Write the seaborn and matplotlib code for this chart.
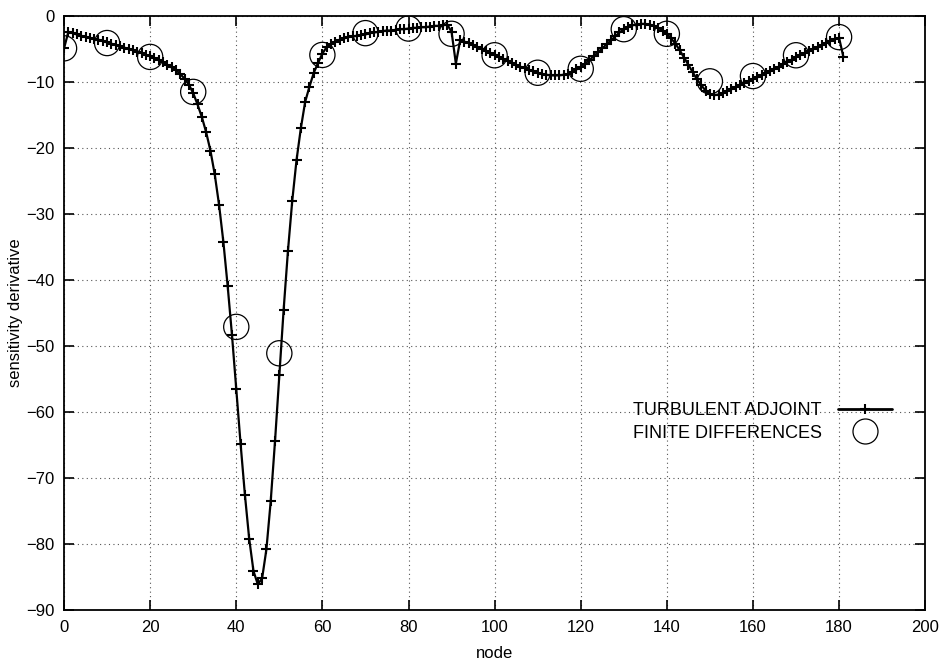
import numpy as np
import pandas as pd
import seaborn as sns
import matplotlib
matplotlib.use("Agg")
import matplotlib.pyplot as plt
from matplotlib.lines import Line2D

# ---- data ----
adjoint_nodes = list(range(0, 182))
adjoint_values = [
    -4.9, -2.4, -2.6, -2.8, -3.0, -3.2, -3.3, -3.5, -3.6, -3.8,
    -4.0, -4.2, -4.4, -4.6, -4.8, -5.0, -5.2, -5.4, -5.6, -5.9,
    -6.1, -6.4, -6.7, -7.0, -7.4, -7.8, -8.2, -8.8, -9.5, -10.4,
    -11.7, -13.4, -15.3, -17.6, -20.4, -24.0, -28.6, -34.2, -40.9, -48.3,
    -56.5, -64.8, -72.5, -79.2, -84.1, -86.1, -85.2, -80.8, -73.5, -64.4,
    -54.4, -44.5, -35.6, -28.0, -21.8, -17.0, -13.0, -10.7, -8.6, -7.1,
    -5.7, -4.7, -4.2, -3.9, -3.6, -3.4, -3.2, -3.1, -3.0, -2.9,
    -2.8, -2.6, -2.5, -2.4, -2.3, -2.2, -2.2, -2.1, -2.0, -2.0,
    -1.9, -1.8, -1.8, -1.7, -1.7, -1.6, -1.5, -1.5, -1.4, -1.3,
    -2.4, -7.2, -3.7, -3.9, -4.1, -4.4, -4.7, -5.0, -5.3, -5.6,
    -5.9, -6.2, -6.5, -6.8, -7.1, -7.4, -7.7, -7.9, -8.2, -8.4,
    -8.6, -8.8, -8.9, -9.0, -9.0, -9.0, -8.9, -8.8, -8.5, -8.1,
    -7.7, -7.2, -6.7, -6.1, -5.5, -4.9, -4.3, -3.7, -3.1, -2.5,
    -2.0, -1.6, -1.4, -1.3, -1.2, -1.2, -1.3, -1.5, -1.8, -2.2,
    -2.7, -3.4, -4.2, -5.2, -6.3, -7.4, -8.5, -9.6, -10.5, -11.3,
    -11.8, -12.0, -11.9, -11.7, -11.4, -11.1, -10.8, -10.5, -10.2, -9.9,
    -9.6, -9.3, -9.0, -8.7, -8.4, -8.0, -7.7, -7.3, -7.0, -6.6,
    -6.2, -5.9, -5.6, -5.3, -5.0, -4.7, -4.4, -4.1, -3.8, -3.5,
    -3.3, -6.2,
]
fd_nodes = list(range(0, 181, 10))
fd_values = [-4.9, -4.1, -6.2, -11.5, -47.1, -51.1, -5.9, -2.6, -1.9, -2.7,
             -5.95, -8.6, -8.0, -2.0, -2.7, -9.9, -9.1, -5.95, -3.2]

x_ticks = list(range(0, 201, 20))
y_ticks = list(range(-90, 1, 10))
labels = ["TURBULENT ADJOINT", "FINITE DIFFERENCES"]

# ---- style ----
sns.set_theme(style="ticks")
plt.rcParams["font.family"] = ["Liberation Sans", "DejaVu Sans"]
plt.rcParams["font.size"] = 12
plt.rcParams["text.color"] = "black"
plt.rcParams["axes.labelcolor"] = "black"

fig = plt.figure(figsize=(9.46, 6.66), dpi=100)
ax = fig.add_axes([0.0677, 0.084, 0.9103, 0.892])

df_adj = pd.DataFrame({"node": adjoint_nodes, "value": adjoint_values})
df_fd = pd.DataFrame({"node": fd_nodes, "value": fd_values})

sns.lineplot(data=df_adj, x="node", y="value", ax=ax, color="black",
             linewidth=1.6, marker="+", markersize=7, markeredgewidth=1.5,
             markeredgecolor="black", zorder=3)
sns.scatterplot(data=df_fd, x="node", y="value", ax=ax, marker="o", s=330,
                facecolor="none", edgecolor="black", linewidth=0.9, zorder=4)

ax.set_xlim(0, 200)
ax.set_ylim(-90, 0)
ax.set_xticks(x_ticks)
ax.set_yticks(y_ticks)
ax.grid(True, color="#555555", linestyle=(0, (1, 3)), linewidth=0.8)
ax.tick_params(direction="in", length=7, width=1.2, top=True, right=True,
               labelsize=12, colors="black", pad=7)
for s in ax.spines.values():
    s.set_linewidth(1.3)
    s.set_color("black")
ax.set_xlabel("node", fontsize=12, labelpad=8)
ax.set_ylabel("sensitivity derivative", fontsize=12, labelpad=2)

handles = [
    Line2D([0], [0], color="black", lw=2, marker="+", markersize=7,
           markeredgewidth=1.5),
    Line2D([0], [0], color="none", marker="o", markersize=18,
           markerfacecolor="none", markeredgecolor="black", markeredgewidth=0.9),
]
leg = ax.legend(handles, labels, loc="center right", numpoints=1,
                bbox_to_anchor=(0.9617, 0.3165), frameon=False,
                markerfirst=False, handlelength=3.0, handletextpad=0.9,
                labelspacing=0.3, fontsize=13, borderaxespad=0, borderpad=0)

fig.savefig("out.png", dpi=100)
